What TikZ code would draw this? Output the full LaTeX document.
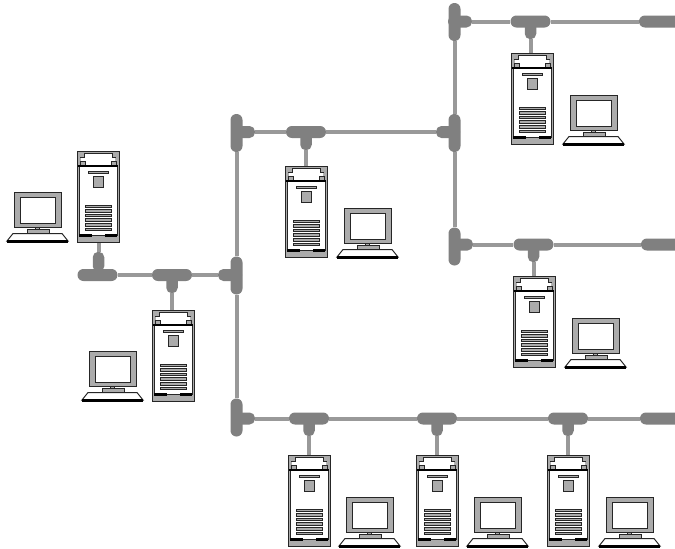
\documentclass[tikz,border=0pt]{standalone}
\usepackage{xcolor}
\definecolor{busgray}{HTML}{808080}
\definecolor{linegray}{HTML}{999999}
\definecolor{casegray}{HTML}{ABABAB}
\usepackage{tikz}
\tikzset{
  hbar/.style={fill=busgray,rectangle,rounded corners=5.9pt,minimum width=40pt,minimum height=12pt,inner sep=0pt},
  vbar/.style={fill=busgray,rectangle,rounded corners=5.9pt,minimum width=12pt,minimum height=38pt,inner sep=0pt},
  stem/.style={fill=busgray,rectangle,rounded corners=5.4pt,minimum width=11.5pt,minimum height=20pt,inner sep=0pt},
  stub/.style={fill=busgray,rectangle,rounded corners=5.4pt,minimum width=24pt,minimum height=12pt,inner sep=0pt},
  cable/.style={draw=linegray,line width=4pt},
  part/.style={draw=black!85,line width=1pt},
  towerpc/.pic={
    \node[part,fill=casegray,rectangle,anchor=north west,minimum width=42pt,minimum height=91pt,inner sep=0pt] (-body) at (0,0) {};
    \fill[white] (7,2) -- (35,2) -- (35,6) -- (38,6) -- (38,14) -- (4,14) -- (4,6) -- (7,6) -- cycle;
    \draw[part] (7,2) -- (35,2) (7,2) -- (7,6) -- (3,6) (35,2) -- (35,6) -- (39,6);
    \draw[part,fill=casegray] (3,10) rectangle (8,14);
    \draw[part,fill=casegray] (34,10) rectangle (39,14);
    \draw[part,fill=white] (2,15) rectangle (40,84);
    \draw[black,line width=1.6pt] (1,15) -- (41,15);
    \draw[part,fill=casegray] (11,20) rectangle (31,22);
    \draw[part,fill=casegray] (16,25) rectangle (26,36);
    \foreach \y in {54,58.6,63.2,67.8,72.4,77} {
      \draw[part,fill=casegray] (8,\y) rectangle (34,\y+2.6);
    }
    \draw[black,line width=2.2pt] (2,84.5) -- (15,84.5) (28,84.5) -- (40,84.5);
  },
  screenpc/.pic={
    \draw[part,fill=casegray] (0,0) rectangle (47,35);
    \draw[part,fill=white] (6,5) rectangle (41,31);
    \draw[part,fill=casegray] (21.5,35) rectangle (25.5,37);
    \draw[part,fill=casegray] (13,37) rectangle (35,41);
    \draw[part,fill=white] (-1,41.5) -- (48,41.5) -- (54,49) -- (-7,49) -- cycle;
    \draw[black,line width=2.2pt] (-7,49.5) -- (54,49.5);
  }
}
\begin{document}
\begin{tikzpicture}[x=1pt,y=-1pt]
\useasboundingbox (0,0) rectangle (675,549);
\pic (ta) at (77,151) {towerpc};
\pic (tb) at (152,310) {towerpc};
\pic (tc) at (285,166) {towerpc};
\pic (td) at (511,53) {towerpc};
\pic (te) at (513,276) {towerpc};
\pic (tf) at (288,455) {towerpc};
\pic (tg) at (416,455) {towerpc};
\pic (th) at (547,455) {towerpc};
\pic (sa) at (14,192) {screenpc};
\pic (sb) at (89,351) {screenpc};
\pic (sc) at (344,208) {screenpc};
\pic (sd) at (570,95) {screenpc};
\pic (se) at (572,318) {screenpc};
\pic (sf) at (346,497) {screenpc};
\pic (sg) at (474,497) {screenpc};
\pic (sh) at (606,497) {screenpc};
\node[hbar] (busa) at (97.5,275) {};
\node[stem,anchor=south] (stema) at (98.5,272) {};
\node[hbar] (busb) at (172,275) {};
\node[stem,anchor=north] (stemb) at (172,273) {};
\node[stub] (stubj) at (230,275) {};
\node[vbar] (joinl) at (236.5,275.5) {};
\node[vbar] (jointop) at (236.5,133) {};
\node[stub] (stubt) at (243,132) {};
\node[hbar] (busc) at (306,132) {};
\node[stem,anchor=north] (stemc) at (306,130) {};
\node[stub] (stubr) at (448,132) {};
\node[vbar] (joinr) at (454.5,133) {};
\node[vbar] (joinu) at (454.5,22) {};
\node[stub] (stubu) at (460,21.5) {};
\node[hbar] (busd) at (530.5,21.5) {};
\node[stem,anchor=north] (stemd) at (530.5,19) {};
\node[hbar,minimum width=42pt] (endd) at (660,21.5) {};
\node[vbar] (joind) at (454.5,246.5) {};
\node[stub] (stubd) at (461,244.5) {};
\node[hbar] (buse) at (533.5,244.5) {};
\node[stem,anchor=north] (steme) at (533.5,242) {};
\node[hbar,minimum width=42pt] (ende) at (662,244.5) {};
\node[vbar] (joinb) at (236.5,417.5) {};
\node[stub] (stubb) at (243,418.5) {};
\node[hbar] (busf) at (309,418.5) {};
\node[stem,anchor=north] (stemf) at (309,416) {};
\node[hbar] (busg) at (437,418.5) {};
\node[stem,anchor=north] (stemg) at (437,416) {};
\node[hbar] (bush) at (568,418.5) {};
\node[stem,anchor=north] (stemh) at (568,416) {};
\node[hbar,minimum width=42pt] (endh) at (661,418.5) {};
\draw[cable] (stema.north) -- (stema.north |- ta-body.south);
\draw[cable] (busa.east) -- (busb.west);
\draw[cable] (busb.east) -- (stubj.west);
\draw[cable] (stemb.south) -- (stemb.south |- tb-body.north);
\draw[cable] (jointop.south) -- (joinl.north);
\draw[cable] (joinl.south) -- (joinb.north);
\draw[cable] (stubt.east) -- (busc.west);
\draw[cable] (busc.east) -- (stubr.west);
\draw[cable] (stemc.south) -- (stemc.south |- tc-body.north);
\draw[cable] (joinu.south) -- (joinr.north);
\draw[cable] (joinr.south) -- (joind.north);
\draw[cable] (stubu.east) -- (busd.west);
\draw[cable] (busd.east) -- (endd.west);
\draw[cable] (stemd.south) -- (stemd.south |- td-body.north);
\draw[cable] (stubd.east) -- (buse.west);
\draw[cable] (buse.east) -- (ende.west);
\draw[cable] (steme.south) -- (steme.south |- te-body.north);
\draw[cable] (stubb.east) -- (busf.west);
\draw[cable] (busf.east) -- (busg.west);
\draw[cable] (busg.east) -- (bush.west);
\draw[cable] (bush.east) -- (endh.west);
\draw[cable] (stemf.south) -- (stemf.south |- tf-body.north);
\draw[cable] (stemg.south) -- (stemg.south |- tg-body.north);
\draw[cable] (stemh.south) -- (stemh.south |- th-body.north);
\end{tikzpicture}
\end{document}
